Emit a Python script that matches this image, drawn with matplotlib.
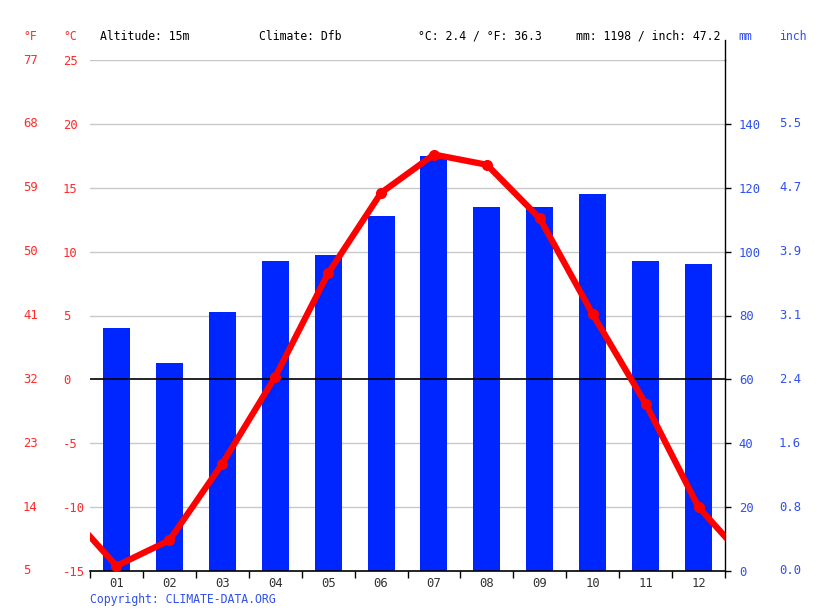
import numpy as np
import matplotlib
matplotlib.use("Agg")
import matplotlib.pyplot as plt
from matplotlib import transforms
from matplotlib.lines import Line2D

# ---- data ----
months = ["01", "02", "03", "04", "05", "06", "07", "08", "09", "10", "11", "12"]
temp_c = [-14.6, -12.6, -6.6, 0.2, 8.3, 14.6, 17.6, 16.8, 12.6, 5.1, -1.9, -10.0]
precip_mm = [76, 65, 81, 97, 99, 111, 130, 114, 114, 118, 97, 96]
c_ticks = [-15, -10, -5, 0, 5, 10, 15, 20, 25]
f_labels = ["5", "14", "23", "32", "41", "50", "59", "68", "77"]
mm_ticks = [0, 20, 40, 60, 80, 100, 120, 140]
inch_labels = ["0.0", "0.8", "1.6", "2.4", "3.1", "3.9", "4.7", "5.5"]
header_altitude = "Altitude: 15m"
header_climate = "Climate: Dfb"
header_temp = "°C: 2.4 / °F: 36.3"
header_precip = "mm: 1198 / inch: 47.2"

RED = "#ff0000"
RED_TXT = "#ff2a2a"
BLUE_BAR = "#0026ff"
BLUE_TXT = "#3050f0"
FONT = "DejaVu Sans Mono"
FS = 8.3
LFS = 8.8

W, H = 815, 611
fig = plt.figure(figsize=(W / 100, H / 100), dpi=100)
L, R, T, B = 90, 725, 60, 571
ax1 = fig.add_axes([L / W, 1 - B / H, (R - L) / W, (B - T) / H])
ax2 = ax1.twinx()
ax1.set_zorder(ax2.get_zorder() + 1)
ax1.patch.set_visible(False)

x = np.arange(1, 13)

# bars + grid on ax2 (mm)
ax2.set_ylim(0, 160)
ax2.set_xlim(0.5, 12.5)
for g in [20, 40, 80, 100, 120, 140, 160]:
    ax2.axhline(g, color="#c8c8c8", lw=1, zorder=0)
ax2.bar(x, precip_mm, width=0.51, color=BLUE_BAR, zorder=2)
ax2.set_yticks(mm_ticks)
ax2.set_yticklabels([str(v) for v in mm_ticks])
ax2.tick_params(axis="y", direction="out", length=4, width=1, color="black",
                labelcolor=BLUE_TXT, labelsize=LFS, pad=6)
for lab in ax2.get_yticklabels():
    lab.set_fontfamily(FONT)

# temperature on ax1
ax1.set_ylim(-15, 25)
ax1.set_xlim(0.5, 12.5)
ax1.axhline(0, color="black", lw=1.2, zorder=3)
edge = (temp_c[0] + temp_c[-1]) / 2
lx = np.concatenate([[0.5], x, [12.5]])
ly = np.concatenate([[edge], temp_c, [edge]])
ax1.plot(lx, ly, color=RED, lw=4.5, solid_joinstyle="round", zorder=5)
ax1.plot(x, temp_c, "o", color=RED, ms=7, zorder=6)

ax1.set_yticks(c_ticks)
ax1.set_yticklabels([str(v) for v in c_ticks])
ax1.tick_params(axis="y", length=0, labelcolor=RED_TXT, labelsize=LFS, pad=27 * 0.72)
for lab in ax1.get_yticklabels():
    lab.set_fontfamily(FONT)
    lab.set_horizontalalignment("left")

# x axis
ax1.set_xticks(np.arange(0.5, 13, 1))
ax1.set_xticklabels([])
ax1.tick_params(axis="x", which="major", direction="out", length=5, width=1)
ax1.set_xticks(x, minor=True)
ax1.set_xticklabels(months, minor=True)
ax1.tick_params(axis="x", which="minor", length=0, labelsize=LFS, labelcolor="#333333", pad=4)
for lab in ax1.get_xticklabels(minor=True):
    lab.set_fontfamily(FONT)
ax2.tick_params(axis="x", length=0, labelbottom=False)

for a in (ax1, ax2):
    a.spines["top"].set_visible(False)
    a.spines["left"].set_visible(False)
ax2.spines["bottom"].set_visible(False)
ax1.spines["right"].set_visible(False)
ax1.spines["bottom"].set_linewidth(1.2)
ax2.spines["right"].set_linewidth(1)

# Fahrenheit and inch columns
tf = transforms.blended_transform_factory(fig.transFigure, ax1.transData)
for c, f in zip(c_ticks, f_labels):
    ax1.text(23 / W, c, f, transform=tf, ha="left", va="center",
             color=RED_TXT, fontsize=LFS, family=FONT)
ti = transforms.blended_transform_factory(fig.transFigure, ax2.transData)
for m, s in zip(mm_ticks, inch_labels):
    ax2.text(779 / W, m, s, transform=ti, ha="left", va="center",
             color=BLUE_TXT, fontsize=LFS, family=FONT)

# extension of right spine above plot
fig.add_artist(Line2D([R / W, R / W], [1 - 40 / H, 1 - T / H], color="black", lw=1,
                      transform=fig.transFigure))

# header
hy = 1 - 36 / H
def ftext(px, s, color):
    fig.text(px / W, hy, s, ha="left", va="center", color=color, fontsize=FS, family=FONT)

ftext(23, "°F", RED_TXT)
ftext(63, "°C", RED_TXT)
ftext(100, header_altitude, "black")
ftext(259, header_climate, "black")
ftext(418, header_temp, "black")
ftext(576, header_precip, "black")
ftext(738, "mm", BLUE_TXT)
ftext(779, "inch", BLUE_TXT)

fig.text(90 / W, 1 - 599 / H, "Copyright: CLIMATE-DATA.ORG", ha="left", va="center",
         color=BLUE_TXT, fontsize=FS, family=FONT)

fig.savefig("out.png", dpi=100)
